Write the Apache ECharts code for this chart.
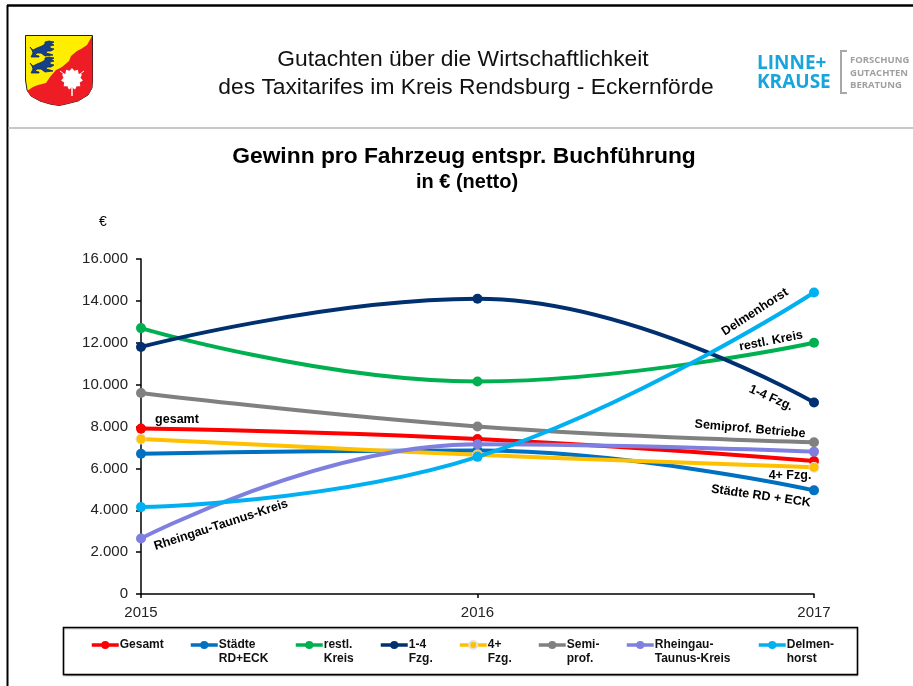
<!DOCTYPE html>
<html><head><meta charset="utf-8">
<style>html,body{margin:0;padding:0;background:#fff}#c{width:913px;height:686px}</style>
<script src="https://cdn.jsdelivr.net/npm/echarts@6/dist/echarts.min.js"></script>
</head><body><div id="c"></div>
<script>
const years = ['2015','2016','2017'];
const gesamt = [7900,7400,6350];
const staedte = [6700,6850,4950];
const restKreis = [12700,10150,12000];
const fzg14 = [11800,14100,9150];
const fzg4plus = [7400,6650,6050];
const semiprof = [9600,8000,7250];
const rheingau = [2650,7150,6800];
const delmenhorst = [4150,6550,14400];
const seriesNames = ['Gesamt','Städte\nRD+ECK','restl.\nKreis','1-4\nFzg.','4+\nFzg.','Semi-\nprof.','Rheingau-\nTaunus-Kreis','Delmen-\nhorst'];
const seriesValues = [gesamt,staedte,restKreis,fzg14,fzg4plus,semiprof,rheingau,delmenhorst];
const colors = ['#FF0000','#0070C0','#00B050','#003070','#FFC000','#808080','#7F7FE0','#00B0F0'];
const legendLeft = [90,189,294,379,458,537,625,757];

const font = '"Liberation Sans", Arial, sans-serif';
const chart = echarts.init(document.getElementById('c'), null, {renderer:'canvas'});

function txt(x,y,text,size,opts){
  opts = opts||{};
  return {type:'text',x:x,y:y,rotation:(opts.rot||0)*Math.PI/180,z:opts.z||50,
    style:{text:text,font:(opts.bold?'bold ':'')+size+'px '+(opts.family||font),fill:opts.fill||'#000',
      align:opts.align||'center',verticalAlign:'middle'}};
}
function line(x1,y1,x2,y2,c,w,z){
  return {type:'line',shape:{x1,y1,x2,y2},style:{stroke:c,lineWidth:w},z:z||1};
}
function poly(points,style,z){ return {type:'polygon',shape:{points:points},style:style,z:z}; }
function leafPoints(cx,cy,r){
  const pts=[]; const n=22;
  for(let i=0;i<n;i++){
    const a=i/n*2*Math.PI-Math.PI/2, rr=i%2?r*0.78:r;
    pts.push([cx+rr*Math.cos(a),cy+rr*Math.sin(a)]);
  }
  return pts;
}
const lionPts = [[0,5],[3,8],[7,6],[12,4],[15,2],[15,0],[19,-1],[24,0],[21,2],[24,3],[20,4],[20,6],[24,7],[21,9],[17,9],[16,11],[20,12],[23,13],[15,14],[11,11],[7,11],[5,13],[9,14],[9,15],[1,15],[3,11],[2,8]];
function lion(x,y){ return poly(lionPts.map(p=>[x+p[0],y+p[1]]),{fill:'#17408B',stroke:'#0d2a66',lineWidth:0.8},12); }
const shieldBottom = [[92.5,80],[92,88],[88,95],[78,101],[66,104],[59,105.5],[50,104],[40,101],[31,96]];

const annotations = [
  txt(177,420,'gesamt',12.5,{bold:true}),
  txt(221,525,'Rheingau-Taunus-Kreis',12.5,{bold:true,rot:18}),
  txt(755,312,'Delmenhorst',12.5,{bold:true,rot:33}),
  txt(771,341,'restl. Kreis',12.5,{bold:true,rot:11}),
  txt(771,398,'1-4 Fzg.',12.5,{bold:true,rot:-24}),
  txt(750,429,'Semiprof. Betriebe',12.5,{bold:true,rot:-5}),
  txt(790,476,'4+ Fzg.',12.5,{bold:true}),
  txt(761,496,'Städte RD + ECK',12.5,{bold:true,rot:-8})
];

const graphic = [
  line(7,5.5,913,5.5,'#000',2.5),
  line(7.5,5,7.5,686,'#000',2),
  line(8,128,913,128,'#b5b5b5',1.5),
  {type:'rect',shape:{x:63.5,y:627.5,width:794,height:47},style:{fill:'#fff',stroke:'#000',lineWidth:1.5,shadowColor:'rgba(0,0,0,0.3)',shadowBlur:1,shadowOffsetY:1},z:0},
  poly([[25.5,35.5],[92.5,35.5]].concat(shieldBottom,[[27,90],[25.5,80]]),{fill:'#FFEE00',stroke:'#222',lineWidth:1},10),
  poly([[92,36]].concat(shieldBottom,[[27,91],[33,87],[38,85],[46,83],[50,77],[56,70],[62,67],[69,61],[71,56],[77,51],[81,49],[87,45]]),{fill:'#EE1C25'},11),
  lion(30,42), lion(30,58),
  poly(leafPoints(72,79,11),{fill:'#fff'},12),
  line(72,88,72,96,'#fff',1.5,12),
  line(60,71,64,74,'#fff',1,12),
  line(84,71,80,74,'#fff',1,12),
  txt(463,60,'Gutachten über die Wirtschaftlichkeit',22.8,{fill:'#111'}),
  txt(466,88,'des Taxitarifes im Kreis Rendsburg - Eckernförde',22.8,{fill:'#111'}),
  txt(464,157,'Gewinn pro Fahrzeug entspr. Buchführung',22.8,{bold:true}),
  txt(467,182,'in € (netto)',20,{bold:true}),
  txt(103,222,'€',14),
  txt(757,64,'LINNE+',19,{bold:true,align:'left',fill:'#18A5DC',family:'"Open Sans", sans-serif'}),
  txt(757,83,'KRAUSE',19,{bold:true,align:'left',fill:'#18A5DC',family:'"Open Sans", sans-serif'}),
  {type:'polyline',shape:{points:[[847,51],[841,51],[841,93],[847,93]]},style:{stroke:'#a8a8a8',lineWidth:2,fill:'none'},z:5},
  txt(850,60,'FORSCHUNG',9.5,{bold:true,align:'left',fill:'#a0a0a0',family:'"Open Sans", sans-serif'}),
  txt(850,73,'GUTACHTEN',9.5,{bold:true,align:'left',fill:'#a0a0a0',family:'"Open Sans", sans-serif'}),
  txt(850,85,'BERATUNG',9.5,{bold:true,align:'left',fill:'#a0a0a0',family:'"Open Sans", sans-serif'})
].concat(annotations);

chart.setOption({
  animation:false,
  backgroundColor:'#fff',
  textStyle:{fontFamily:font},
  grid:{left:141,right:99,top:259,bottom:92,containLabel:false},
  xAxis:{type:'category',data:years,boundaryGap:false,
    axisLine:{show:true,lineStyle:{color:'#000',width:1.5}},
    axisTick:{show:true,alignWithLabel:true,length:4,lineStyle:{color:'#000',width:1.5}},
    axisLabel:{color:'#222',fontSize:15,margin:11,fontFamily:font,showMinLabel:true,showMaxLabel:true,interval:0},
    splitLine:{show:false}},
  yAxis:{type:'value',min:0,max:16000,interval:2000,
    axisLine:{show:true,lineStyle:{color:'#000',width:1.5}},
    axisTick:{show:true,length:5,lineStyle:{color:'#000',width:1.5}},
    axisLabel:{color:'#222',fontSize:15,margin:13,fontFamily:font,
      formatter:v=>v===0?'0':String(v).replace(/(\d)(?=(\d{3})$)/,'$1.')},
    splitLine:{show:false}},
  legend:seriesNames.map((n,i)=>({
    data:[n],left:legendLeft[i],top:624,padding:0,itemGap:0,itemWidth:27,itemHeight:10,
    selectedMode:false,
    lineStyle:{width:3.5},
    textStyle:{fontSize:12,fontWeight:'bold',color:'#111',lineHeight:14,fontFamily:font,padding:[0,0,0,-4]},
    formatter:name=>'\n'+(name.indexOf('\n')<0?name+'\n ':name)
  })),
  series:seriesNames.map((n,i)=>{
    const s={type:'line',name:n,data:seriesValues[i],smooth:0.45,
      symbol:'circle',symbolSize:10,showSymbol:true,clip:false,
      lineStyle:{color:colors[i],width:4},
      itemStyle:{color:colors[i]},z:2+i};
    if(i===4){ s.itemStyle.borderColor='#e2e2e2'; s.itemStyle.borderWidth=1; }
    return s;
  }),
  graphic:graphic
});
</script></body></html>
